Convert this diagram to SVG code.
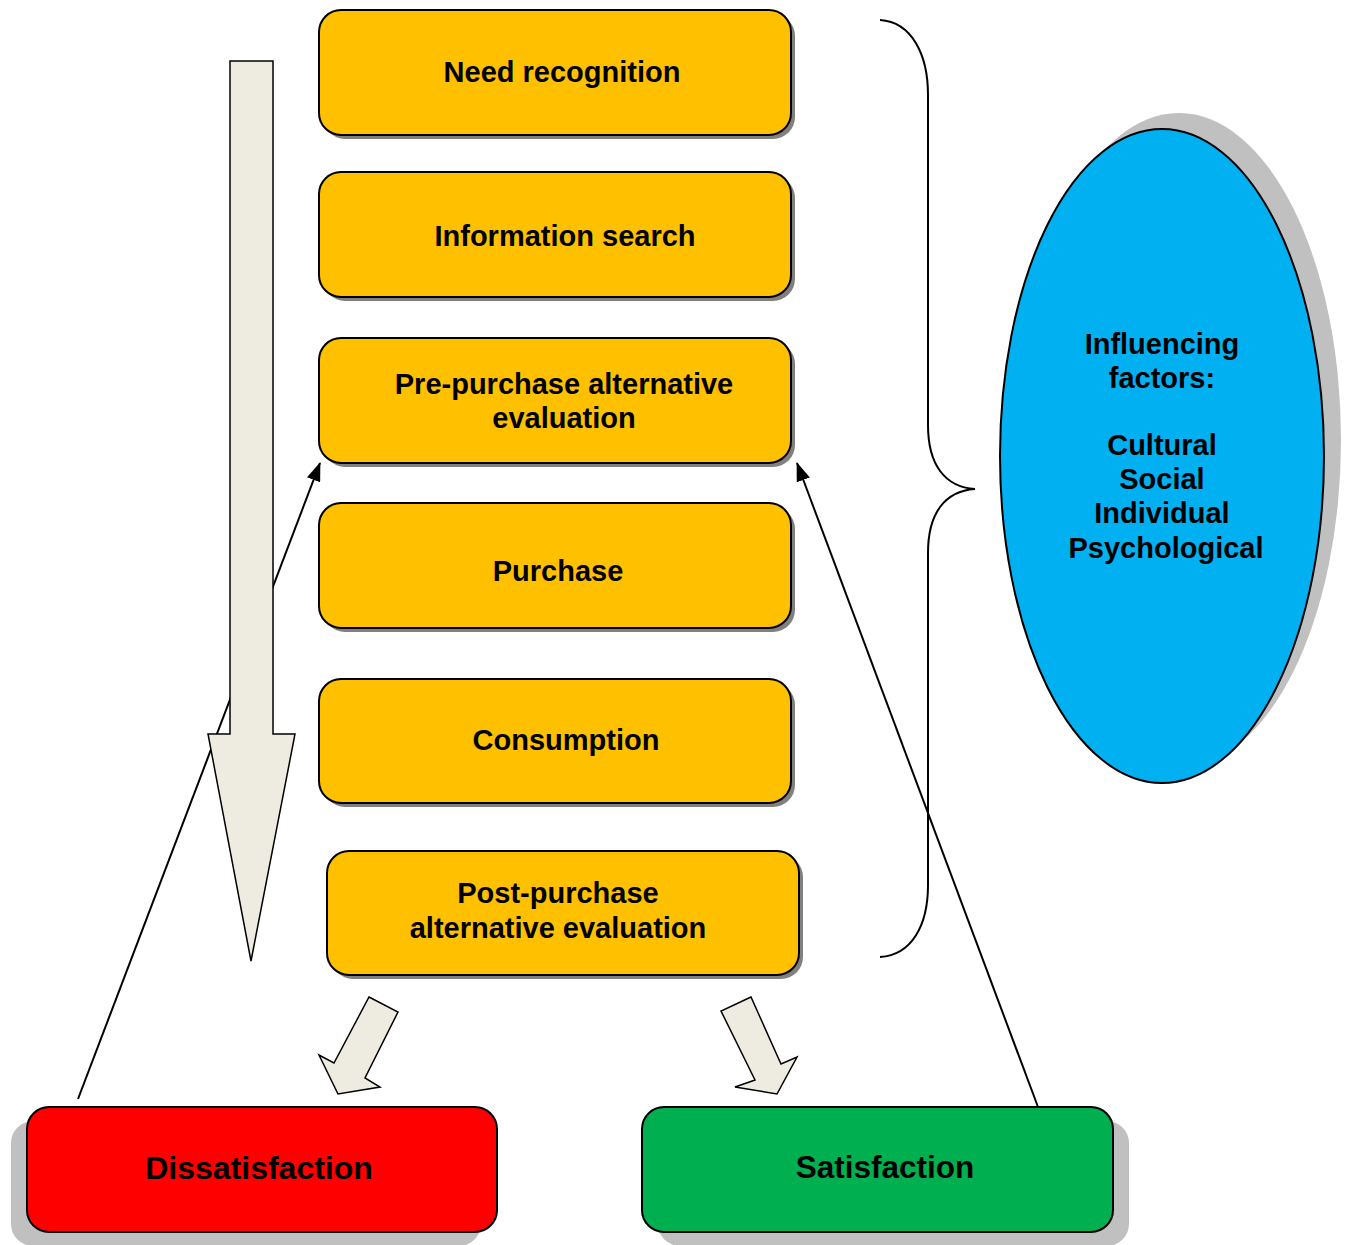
<svg xmlns="http://www.w3.org/2000/svg" width="1348" height="1245" viewBox="0 0 1348 1245">
  <defs>
    <style>
      .lbl { font-family: "Liberation Sans", Arial, sans-serif; font-weight: bold; fill: #000; text-anchor: middle; }
      .step { fill: #FFC000; stroke: #000; stroke-width: 2; }
      .step-shadow { fill: #808080; }
      .soft-shadow { fill: #C0C0C0; }
      .block { fill: #EEECE1; stroke: #000; stroke-width: 1.5; stroke-linejoin: miter; }
      .link { fill: none; stroke: #000; stroke-width: 2; }
    </style>
    <marker id="tip" viewBox="0 0 19 14" refX="18" refY="7" markerWidth="19" markerHeight="14" markerUnits="userSpaceOnUse" orient="auto">
      <path d="M0,0 L19,7 L0,14 Z" fill="#000"/>
    </marker>
  </defs>

  <rect width="1348" height="1245" fill="#fff"/>

  <!-- feedback connectors from the outcomes back to evaluation -->
  <g id="connectors">
    <line class="link" x1="78" y1="1099" x2="320" y2="463" marker-end="url(#tip)"/>
    <line class="link" x1="1038" y1="1107" x2="797" y2="463" marker-end="url(#tip)"/>
  </g>

  <!-- large downward flow arrow -->
  <g id="flow-arrow">
    <polygon class="block" points="230,61 273,61 273,734 295,734 251,961 208,734 230,734"/>
  </g>

  <!-- process steps -->
  <g id="need-recognition">
    <rect class="step-shadow" x="323" y="14" width="472" height="125" rx="22"/>
    <rect class="step" x="319" y="10" width="472" height="125" rx="22"/>
    <text class="lbl" x="562" y="82" font-size="29">Need recognition</text>
  </g>
  <g id="information-search">
    <rect class="step-shadow" x="323" y="176" width="472" height="125" rx="22"/>
    <rect class="step" x="319" y="172" width="472" height="125" rx="22"/>
    <text class="lbl" x="565" y="246" font-size="29">Information search</text>
  </g>
  <g id="pre-purchase">
    <rect class="step-shadow" x="323" y="342" width="472" height="125" rx="22"/>
    <rect class="step" x="319" y="338" width="472" height="125" rx="22"/>
    <text class="lbl" x="564" y="394" font-size="29">Pre-purchase alternative</text>
    <text class="lbl" x="564" y="428" font-size="29">evaluation</text>
  </g>
  <g id="purchase">
    <rect class="step-shadow" x="323" y="507" width="472" height="125" rx="22"/>
    <rect class="step" x="319" y="503" width="472" height="125" rx="22"/>
    <text class="lbl" x="558" y="581" font-size="29">Purchase</text>
  </g>
  <g id="consumption">
    <rect class="step-shadow" x="323" y="683" width="472" height="124" rx="22"/>
    <rect class="step" x="319" y="679" width="472" height="124" rx="22"/>
    <text class="lbl" x="566" y="750" font-size="29">Consumption</text>
  </g>
  <g id="post-purchase">
    <rect class="step-shadow" x="331" y="855" width="472" height="124" rx="22"/>
    <rect class="step" x="327" y="851" width="472" height="124" rx="22"/>
    <text class="lbl" x="558" y="903" font-size="29">Post-purchase</text>
    <text class="lbl" x="558" y="938" font-size="29">alternative evaluation</text>
  </g>

  <!-- outcome split arrows -->
  <g id="split-left">
    <polygon class="block" points="369,997 398,1012 365,1078 380,1087 338,1094 319,1055 334,1063"/>
  </g>
  <g id="split-right">
    <polygon class="block" points="751,997 721,1011 755,1080 735,1087 777,1094 797,1057 781,1064"/>
  </g>

  <!-- outcomes -->
  <g id="dissatisfaction">
    <rect class="soft-shadow" x="11" y="1121" width="470" height="125" rx="22"/>
    <rect x="27" y="1107" width="470" height="125" rx="22" fill="#FF0000" stroke="#000" stroke-width="2"/>
    <text class="lbl" x="259" y="1179" font-size="32">Dissatisfaction</text>
  </g>
  <g id="satisfaction">
    <rect class="soft-shadow" x="658" y="1121" width="471" height="125" rx="22"/>
    <rect x="642" y="1107" width="471" height="125" rx="22" fill="#00B050" stroke="#000" stroke-width="2"/>
    <text class="lbl" x="885" y="1178" font-size="31.5">Satisfaction</text>
  </g>

  <!-- brace grouping all steps -->
  <g id="brace">
    <path class="link" d="M880,20 C912,22 928,55 928,95 L928,425 C928,465 945,487 975,489 C945,491 928,513 928,553 L928,885 C928,925 912,955 880,957"/>
  </g>

  <!-- influencing factors -->
  <g id="influencing-factors">
    <ellipse class="soft-shadow" cx="1179" cy="440" rx="162" ry="327"/>
    <ellipse cx="1162" cy="456" rx="162" ry="327" fill="#00B0F0" stroke="#000" stroke-width="2"/>
    <text class="lbl" font-size="29">
      <tspan x="1166" y="354">Influencing</tspan>
      <tspan x="1166" y="388">factors:</tspan>
      <tspan x="1166" y="455">Cultural</tspan>
      <tspan x="1166" y="489">Social</tspan>
      <tspan x="1166" y="523">Individual</tspan>
      <tspan x="1166" y="558">Psychological</tspan>
    </text>
  </g>
</svg>
